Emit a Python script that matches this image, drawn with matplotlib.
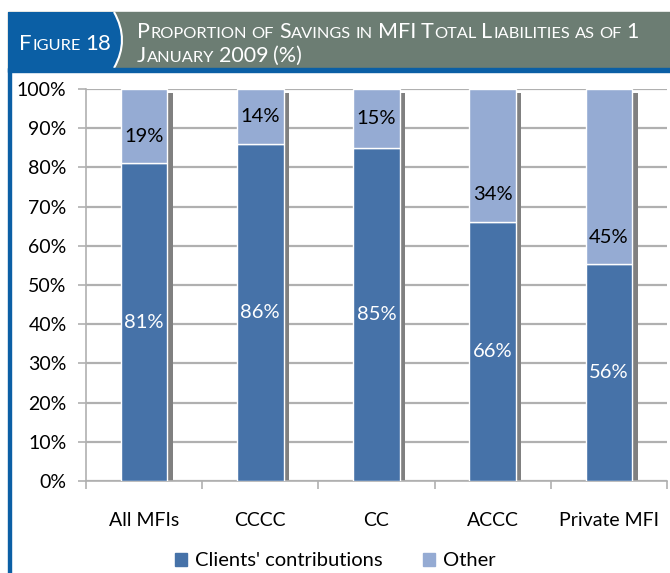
import matplotlib.pyplot as plt
from matplotlib.patches import Rectangle, Patch, PathPatch
from matplotlib.path import Path
from matplotlib.transforms import offset_copy

# data
categories = ['All MFIs', 'CCCC', 'CC', 'ACCC', 'Private MFI']
clients = [81, 86, 85, 66, 56]
other = [19, 14, 15, 34, 45]
# where the "Other" labels sit on the chart (in %)
other_label_pos = [88, 93, 92.5, 73, 62]

W, H = 670, 573
dark = '#4672a8'
light = '#95abd3'
grid_c = '#b0b0b0'
head_blue = '#0b5fa5'
head_grey = '#6c7d73'
font = ['Lato', 'DejaVu Sans']
head_font = ['Lato', 'DejaVu Sans']

fig = plt.figure(figsize=(W / 100, H / 100), dpi=100)


def fx(px):
    return px / W


def fy(py):
    return 1 - py / H


# header band
fig.patches.append(Rectangle((fx(8), fy(68)), fx(662), 56 / H, transform=fig.transFigure,
                             color=head_grey, zorder=0))
curve = Path([(fx(8), fy(12)), (fx(114), fy(12)), (fx(130), fy(40)), (fx(114), fy(68)),
              (fx(8), fy(68)), (fx(8), fy(12))],
             [Path.MOVETO, Path.LINETO, Path.CURVE3, Path.CURVE3, Path.LINETO, Path.CLOSEPOLY])
fig.patches.append(PathPatch(curve, transform=fig.transFigure, facecolor=head_blue,
                             edgecolor='none', zorder=1))
arc = Path([(fx(114), fy(12)), (fx(130), fy(40)), (fx(114), fy(68))],
           [Path.MOVETO, Path.CURVE3, Path.CURVE3])
fig.patches.append(PathPatch(arc, transform=fig.transFigure, facecolor='none',
                             edgecolor='white', lw=1.5, zorder=2))
fig.patches.append(Rectangle((fx(8), fy(71.5)), fx(662), 3.5 / H, transform=fig.transFigure,
                             color=head_blue, zorder=2))
fig.patches.append(Rectangle((fx(8), 0), fx(3), fy(68), transform=fig.transFigure,
                             color=head_blue, zorder=2))

renderer = fig.canvas.get_renderer()


def small_caps(x, y, s, big, small):
    # fake small caps: lowercase letters drawn as smaller capitals
    cx = x
    for word in s.split(' '):
        runs = []
        for ch in word:
            low = ch.islower()
            if runs and runs[-1][1] == low:
                runs[-1][0] += ch
            else:
                runs.append([ch, low])
        for txt, low in runs:
            t = fig.text(fx(cx), fy(y), txt.upper(), fontsize=small if low else big,
                         family=head_font, color='white', va='baseline', ha='left', zorder=5)
            cx += t.get_window_extent(renderer).width + 0.5
        cx += big * 100 / 72 * 0.2


small_caps(19, 50, 'Figure 18', 16, 11.8)
small_caps(137, 38, 'Proportion of Savings in MFI Total Liabilities as of 1', 15.5, 11.8)
small_caps(137, 62, 'January 2009 (%)', 15.5, 11.8)

# chart
ax = fig.add_axes([fx(86), fy(481), fx(667 - 86), (481 - 89) / H])
x = range(len(categories))
tot = [c + o for c, o in zip(clients, other)]
cl_pct = [c / t * 100 for c, t in zip(clients, tot)]
ot_pct = [o / t * 100 for o, t in zip(other, tot)]

shadow_tr = offset_copy(ax.transData, fig=fig, x=5.5, y=-4, units='dots')
ax.bar(x, [100] * len(x), width=0.4, color='#808080', transform=shadow_tr, zorder=2)
ax.bar(x, cl_pct, width=0.4, color=dark, edgecolor='white', lw=1, zorder=3)
ax.bar(x, ot_pct, width=0.4, bottom=cl_pct, color=light, edgecolor='white', lw=1, zorder=3)

for i in x:
    ax.text(i, cl_pct[i] / 2, f'{clients[i]}%', ha='center', va='center', color='white',
            fontsize=14.5, family=font, zorder=4)
    ax.text(i, other_label_pos[i], f'{other[i]}%', ha='center', va='center', color='black',
            fontsize=14.5, family=font, zorder=4)

ax.set_xlim(-0.5, len(categories) - 0.5)
ax.set_ylim(0, 100)
ax.set_yticks(range(0, 101, 10))
ax.set_yticklabels([f'{v}%' for v in range(0, 101, 10)], family=font, fontsize=14)
ax.yaxis.grid(True, color=grid_c, lw=1.6)
ax.set_axisbelow(True)
ax.set_xticks(list(x))
ax.set_xticklabels(categories, family=font, fontsize=14)
ax.set_xticks([i - 0.5 for i in range(len(categories) + 1)], minor=True)
ax.tick_params(axis='x', which='major', length=0, pad=22)
ax.tick_params(axis='x', which='minor', length=6, color=grid_c, width=1.2)
ax.tick_params(axis='y', length=6, color=grid_c, width=1.2, pad=8)
for s in ['top', 'right']:
    ax.spines[s].set_visible(False)
for s in ['left', 'bottom']:
    ax.spines[s].set_color(grid_c)
    ax.spines[s].set_linewidth(1.2)

handles = [Patch(color=dark, label="Clients' contributions"), Patch(color=light, label='Other')]
fig.legend(handles=handles, loc='center', bbox_to_anchor=(0.5, fy(561)), ncol=2, frameon=False,
           prop={'family': font, 'size': 14.5}, handlelength=0.6, handleheight=0.6,
           handletextpad=0.4, columnspacing=2.0)

fig.savefig('out.png', dpi=100)
